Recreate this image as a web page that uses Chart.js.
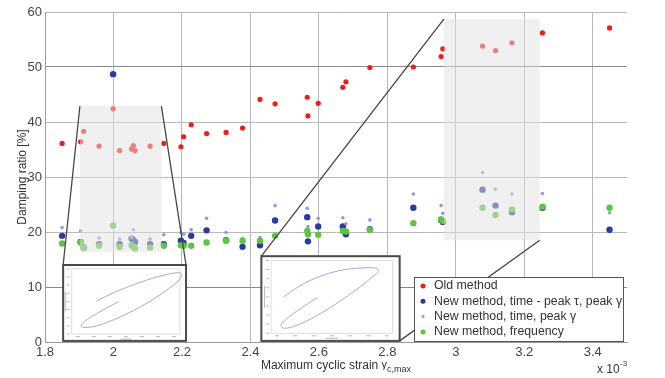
<!DOCTYPE html>
<html>
<head>
<meta charset="utf-8">
<script src="https://cdn.jsdelivr.net/npm/chart.js@4.4.0/dist/chart.umd.min.js"></script>
<style>
  html, body { margin: 0; padding: 0; background: #fff; }
  #wrap { width: 665px; height: 378px; }
</style>
</head>
<body>
<div id="wrap"><canvas id="dampingChart" width="665" height="378"></canvas></div>
<script>
// Maximum cyclic strain (x 10^-3)
const strain = [1.850, 1.904, 1.913, 1.958, 1.999, 2.018, 2.053, 2.058, 2.063, 2.107, 2.147,
                2.197, 2.205, 2.227, 2.272, 2.329, 2.377, 2.428, 2.472, 2.566, 2.568, 2.598,
                2.670, 2.679, 2.749, 2.876, 2.957, 2.962, 3.078, 3.116, 3.164, 3.253, 3.449];

// Damping ratio [%]
const oldMethod = [36.1, 36.4, 38.3, 35.6, 42.4, 34.8, 35.1, 35.7, 34.8, 35.6, 36.1,
                   35.5, 37.3, 39.5, 37.9, 38.1, 38.9, 44.1, 43.3, 44.5, 41.1, 43.4,
                   46.3, 47.3, 49.9, 50.0, 51.9, 53.3, 53.8, 53.0, 54.4, 56.2, 57.1];
const newPeakTauGamma = [19.3, 18.2, 17.2, 17.8, 48.7, 17.8, 18.8, 18.5, 18.2, 17.8, 17.8,
                         18.4, 18.0, 19.3, 20.3, 18.5, 17.3, 17.6, 22.1, 22.7, 18.3, 21.0,
                         21.0, 19.6, 20.5, 24.4, 22.2, 21.8, 27.7, 24.8, 23.6, 24.4, 20.4];
const newPeakGamma = [20.8, 20.2, null, 18.9, null, 18.7, 19.0, 20.4, null, 18.7, 19.5,
                      19.9, 19.6, 20.4, 22.5, 19.9, 18.8, 19.0, 24.8, 24.3, 21.0, 22.5,
                      22.6, 21.5, 22.2, 26.9, 24.8, 23.4, 30.8, 27.8, 26.9, 27.0, 23.5];
const newFrequency = [17.9, 18.1, 17.1, 17.5, 21.2, 17.3, 17.6, 17.3, 17.0, 17.2, 17.5,
                      17.6, 17.5, 17.5, 18.1, 18.4, 18.4, 18.4, 19.3, 20.2, 19.6, 19.5,
                      20.2, 20.1, 20.4, 21.6, 22.3, 22.0, 24.4, 23.1, 24.1, 24.6, 24.4];

const xTicks = [1.8, 2.0, 2.2, 2.4, 2.6, 2.8, 3.0, 3.2, 3.4];
const yTicks = [0, 10, 20, 30, 40, 50, 60];

const seriesNames = ['Old method', 'New method, time - peak \u03c4, peak \u03b3',
                     'New method, time, peak \u03b3', 'New method, frequency'];
const seriesColors = ['#f01c1c', '#2c3a9e', '#9297e0', '#5cc43e'];
const seriesRadius = [2.6, 3.2, 1.8, 3.2];

// zoomed regions and their insets (data coordinates)
const zoomBoxes = [
    { x0: 1.902, x1: 2.140, y0: 16.3, y1: 42.9 },
    { x0: 2.965, x1: 3.245, y0: 18.5, y1: 58.7 }
];
const insetBoxes = [
    { x0: 1.853, x1: 2.212, y0: 0.2, y1: 14.0 },
    { x0: 2.432, x1: 2.836, y0: 0.2, y1: 15.6 }
];

function toPoints(values) {
    return strain.map((x, i) => ({ x: x, y: values[i] })).filter(p => p.y !== null);
}

function boxPx(chart, b) {
    const xs = chart.scales.x, ys = chart.scales.y;
    return {
        l: xs.getPixelForValue(b.x0), r: xs.getPixelForValue(b.x1),
        t: ys.getPixelForValue(b.y1), b: ys.getPixelForValue(b.y0)
    };
}

// hysteresis loop sketch inside an inset (fractions of the inset box)
const loopShapes = [
    [[0.272, 0.474], [0.50, 0.28, 0.80, 0.12, 0.93, 0.10], [0.99, 0.09, 0.97, 0.19, 0.86, 0.31],
     [0.64, 0.58, 0.27, 0.86, 0.16, 0.82], [0.11, 0.79, 0.22, 0.68, 0.451, 0.482]],
    [[0.165, 0.478], [0.30, 0.30, 0.50, 0.15, 0.72, 0.14], [0.86, 0.12, 0.88, 0.16, 0.80, 0.25],
     [0.60, 0.52, 0.27, 0.87, 0.16, 0.85], [0.10, 0.82, 0.20, 0.70, 0.405, 0.49]]
];

function drawInset(ctx, p, shape) {
    const w = p.r - p.l, h = p.b - p.t;
    ctx.save();
    ctx.fillStyle = '#ffffff';
    ctx.fillRect(p.l, p.t, w, h);
    // inner axes
    const il = p.l + w * 0.07, ir = p.r - w * 0.05, it = p.t + h * 0.05, ib = p.b - h * 0.09;
    ctx.strokeStyle = '#d4d4d4';
    ctx.lineWidth = 0.8;
    ctx.strokeRect(il, it, ir - il, ib - it);
    ctx.fillStyle = '#b8b8b8';
    for (let i = 0; i <= 8; i++) {
        const yy = it + (ib - it) * (i / 8);
        ctx.fillRect(il - 5, yy - 0.5, 3, 1);
    }
    for (let i = 0; i <= 6; i++) {
        const xx = il + 6 + (ir - il - 12) * (i / 6);
        ctx.fillRect(xx - 2, ib + 2, 4, 1);
    }
    ctx.fillRect(il - 7, it + (ib - it) * 0.35, 1, (ib - it) * 0.3);
    ctx.fillRect(il + (ir - il) * 0.45, ib + 4.5, (ir - il) * 0.1, 1);
    // loop
    const X = f => p.l + f * w, Y = f => p.t + f * h;
    ctx.strokeStyle = '#a4a8e0';
    ctx.lineWidth = 1;
    ctx.beginPath();
    ctx.moveTo(X(shape[0][0]), Y(shape[0][1]));
    for (let k = 1; k < shape.length; k++) {
        const c = shape[k];
        ctx.bezierCurveTo(X(c[0]), Y(c[1]), X(c[2]), Y(c[3]), X(c[4]), Y(c[5]));
    }
    ctx.stroke();
    // frame
    ctx.strokeStyle = '#4a4a4a';
    ctx.lineWidth = 2;
    ctx.strokeRect(p.l, p.t, w, h);
    ctx.restore();
}

const overlayPlugin = {
    id: 'overlay',
    afterDatasetsDraw(chart) {
        const ctx = chart.ctx;
        const zb = zoomBoxes.map(b => boxPx(chart, b));
        const ib = insetBoxes.map(b => boxPx(chart, b));
        ctx.save();
        // shaded zoom regions
        ctx.fillStyle = 'rgba(226, 226, 226, 0.5)';
        zb.forEach(p => ctx.fillRect(p.l, p.t, p.r - p.l, p.b - p.t));
        // connector lines
        ctx.strokeStyle = '#454545';
        ctx.lineWidth = 1.3;
        const seg = (a, b, c, d) => { ctx.beginPath(); ctx.moveTo(a, b); ctx.lineTo(c, d); ctx.stroke(); };
        seg(zb[0].l, zb[0].t, ib[0].l, ib[0].t);
        seg(zb[0].r, zb[0].t, ib[0].r, ib[0].t);
        seg(zb[1].l, zb[1].t, ib[1].l, ib[1].t);
        seg(zb[1].r, zb[1].b, ib[1].r, ib[1].b);
        ctx.restore();
        ib.forEach((p, i) => drawInset(ctx, p, loopShapes[i]));

        // legend
        const area = chart.chartArea;
        const lw = 209, lh = 64;
        const lx = area.right - 4 - lw, ly = area.bottom - 1 - lh;
        ctx.save();
        ctx.fillStyle = '#ffffff';
        ctx.fillRect(lx, ly, lw, lh);
        ctx.strokeStyle = '#555555';
        ctx.lineWidth = 1;
        ctx.strokeRect(lx + 0.5, ly + 0.5, lw, lh);
        ctx.font = '12.3px "Liberation Sans", Arial, sans-serif';
        ctx.textBaseline = 'middle';
        seriesNames.forEach((name, i) => {
            const yy = ly + 9 + i * 15.3;
            ctx.fillStyle = seriesColors[i];
            ctx.beginPath();
            ctx.arc(lx + 9, yy, i === 2 ? 1.5 : 2.5, 0, Math.PI * 2);
            ctx.fill();
            ctx.fillStyle = '#333333';
            ctx.fillText(name, lx + 20, yy);
        });
        ctx.restore();
    },
    afterDraw(chart) {
        const ctx = chart.ctx;
        const area = chart.chartArea;
        ctx.save();
        ctx.fillStyle = '#333333';
        ctx.textBaseline = 'alphabetic';
        // x axis title with subscript
        const main = 'Maximum cyclic strain ';
        ctx.font = '12px "Liberation Sans", Arial, sans-serif';
        const w1 = ctx.measureText(main).width;
        ctx.font = '11px "Liberation Sans", Arial, sans-serif';
        const w2 = ctx.measureText('\u03b3').width;
        ctx.font = '9px "Liberation Sans", Arial, sans-serif';
        const w3 = ctx.measureText('c,max').width;
        let x = (area.left + area.right) / 2 - (w1 + w2 + w3) / 2;
        const base = 369;
        ctx.font = '12px "Liberation Sans", Arial, sans-serif';
        ctx.fillText(main, x, base);
        x += w1;
        ctx.font = '11px "Liberation Sans", Arial, sans-serif';
        ctx.fillText('\u03b3', x, base - 1);
        x += w2;
        ctx.font = '9px "Liberation Sans", Arial, sans-serif';
        ctx.fillText('c,max', x, base + 3);
        // exponent note
        ctx.font = '12px "Liberation Sans", Arial, sans-serif';
        ctx.fillText('x 10', 597, 373);
        ctx.font = '8px "Liberation Sans", Arial, sans-serif';
        ctx.fillText('-3', 620, 366);
        ctx.restore();
    }
};

const datasets = [oldMethod, newPeakTauGamma, newPeakGamma, newFrequency].map((values, i) => ({
    label: seriesNames[i],
    data: toPoints(values),
    backgroundColor: seriesColors[i],
    borderWidth: 0,
    pointRadius: seriesRadius[i],
    pointHoverRadius: seriesRadius[i],
    order: 4 - i
}));

const gridColor = ctx => (ctx.tick && (ctx.tick.value === 50 || ctx.tick.value === 10)) ? '#8a8a8a' : '#b8b8b8';

new Chart(document.getElementById('dampingChart').getContext('2d'), {
    type: 'scatter',
    data: { datasets: datasets },
    options: {
        responsive: false,
        devicePixelRatio: 1,
        animation: false,
        layout: { padding: { left: 0, top: 12, right: 38, bottom: 0 } },
        plugins: {
            legend: { display: false },
            tooltip: { enabled: false }
        },
        scales: {
            x: {
                type: 'linear',
                min: 1.8,
                max: 3.5,
                afterBuildTicks: scale => { scale.ticks = xTicks.map(v => ({ value: v })); },
                afterFit: scale => { scale.height = 36; },
                ticks: {
                    callback: v => String(Number(v.toFixed(1))),
                    color: '#444',
                    padding: 3,
                    maxRotation: 0,
                    autoSkip: false,
                    font: { size: 13, family: '"Liberation Sans", Arial, sans-serif' }
                },
                grid: { color: '#b8b8b8', lineWidth: 1, drawTicks: false },
                border: { color: '#9a9a9a' }
            },
            y: {
                min: 0,
                max: 60,
                afterBuildTicks: scale => { scale.ticks = yTicks.map(v => ({ value: v })); },
                afterFit: scale => { scale.width = 45; },
                ticks: {
                    color: '#444',
                    padding: 3,
                    font: { size: 13, family: '"Liberation Sans", Arial, sans-serif' }
                },
                title: {
                    display: true,
                    text: 'Damping ratio [%]',
                    color: '#333',
                    padding: { top: 15, bottom: 0 },
                    font: { size: 12, family: '"Liberation Sans", Arial, sans-serif' }
                },
                grid: { color: gridColor, lineWidth: 1, drawTicks: false },
                border: { color: '#9a9a9a' }
            }
        }
    },
    plugins: [overlayPlugin]
});
</script>
</body>
</html>
